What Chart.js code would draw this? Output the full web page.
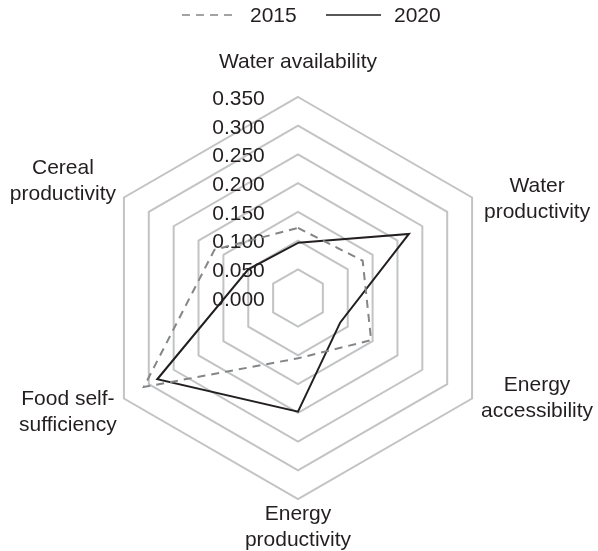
<!DOCTYPE html>
<html>
<head>
<meta charset="utf-8">
<script src="https://cdn.jsdelivr.net/npm/chart.js@4/dist/chart.umd.min.js"></script>
<style>
  html, body { margin: 0; padding: 0; background: #fff; }
  #wrap { width: 598px; height: 551px; }
</style>
</head>
<body>
<div id="wrap"><canvas id="radar"></canvas></div>
<script>
// axis names, one entry per spoke (split into display lines)
const axisNames = [
  ['Water availability'],
  ['Water', 'productivity'],
  ['Energy', 'accessibility'],
  ['Energy', 'productivity'],
  ['Food self-', 'sufficiency'],
  ['Cereal', 'productivity'],
];
const seriesNames = ['2015', '2020'];
const values2015 = [0.122, 0.130, 0.147, 0.105, 0.310, 0.168];
const values2020 = [0.096, 0.223, 0.085, 0.198, 0.283, 0.100];
const tickValues = [0, 0.05, 0.10, 0.15, 0.20, 0.25, 0.30, 0.35];

const FONT = '21px "Liberation Sans", Arial, Helvetica, sans-serif';
const INK = '#231f20';
const GREY_LINE = '#838587';
const GRID = '#c2c3c5';

// where each axis name sits, relative to the outer vertex of its spoke
const nameOffsets = [[0, -35], [65, 2], [65, 0], [0, 28], [-56, 14], [-61, -16]];

const tickText = {
  id: 'tickText',
  beforeDatasetsDraw(chart) {
    const { ctx } = chart;
    const r = chart.scales.r;
    ctx.save();
    ctx.font = FONT;
    ctx.fillStyle = INK;
    ctx.textAlign = 'center';
    ctx.textBaseline = 'middle';
    tickValues.forEach(v => {
      const y = r.yCenter - r.getDistanceFromCenterForValue(v);
      ctx.fillText(v.toFixed(3), r.xCenter - 59.5, y + 2);
    });
    ctx.restore();
  }
};

const labelsAndLegend = {
  id: 'labelsAndLegend',
  afterDraw(chart) {
    const { ctx } = chart;
    const r = chart.scales.r;
    ctx.save();
    ctx.font = FONT;
    ctx.fillStyle = INK;
    ctx.textAlign = 'center';
    ctx.textBaseline = 'middle';

    axisNames.forEach((lines, i) => {
      const p = r.getPointPosition(i, r.drawingArea);
      const [dx, dy] = nameOffsets[i];
      const top = p.y + dy - (lines.length - 1) * 13;
      lines.forEach((t, k) => ctx.fillText(t, p.x + dx, top + k * 26));
    });

    // legend across the top
    const y = 15;
    let x = 182;
    chart.data.datasets.forEach(ds => {
      ctx.beginPath();
      ctx.setLineDash(ds.borderDash || []);
      ctx.strokeStyle = ds.borderColor;
      ctx.lineWidth = 1.6;
      ctx.moveTo(x, y);
      ctx.lineTo(x + 55, y);
      ctx.stroke();
      ctx.setLineDash([]);
      ctx.textAlign = 'left';
      ctx.fillText(ds.label, x + 68, y + 1);
      x += 144;
    });
    ctx.restore();
  }
};

new Chart(document.getElementById('radar'), {
  type: 'radar',
  data: {
    labels: axisNames,
    datasets: [
      {
        label: seriesNames[0],
        data: values2015,
        borderColor: GREY_LINE,
        borderWidth: 2,
        borderDash: [8, 6],
        fill: false,
        pointRadius: 0,
        tension: 0,
      },
      {
        label: seriesNames[1],
        data: values2020,
        borderColor: INK,
        borderWidth: 2,
        fill: false,
        pointRadius: 0,
        tension: 0,
      },
    ],
  },
  options: {
    responsive: true,
    maintainAspectRatio: false,
    animation: false,
    layout: { padding: { top: 97, bottom: 52, left: 97, right: 99 } },
    plugins: {
      legend: { display: false },
      tooltip: { enabled: false },
    },
    scales: {
      r: {
        min: 0,
        max: 0.35,
        ticks: { stepSize: 0.05, display: false },
        grid: { color: GRID, lineWidth: 2 },
        angleLines: { display: false },
        pointLabels: { display: false },
      },
    },
  },
  plugins: [tickText, labelsAndLegend],
});
</script>
</body>
</html>
